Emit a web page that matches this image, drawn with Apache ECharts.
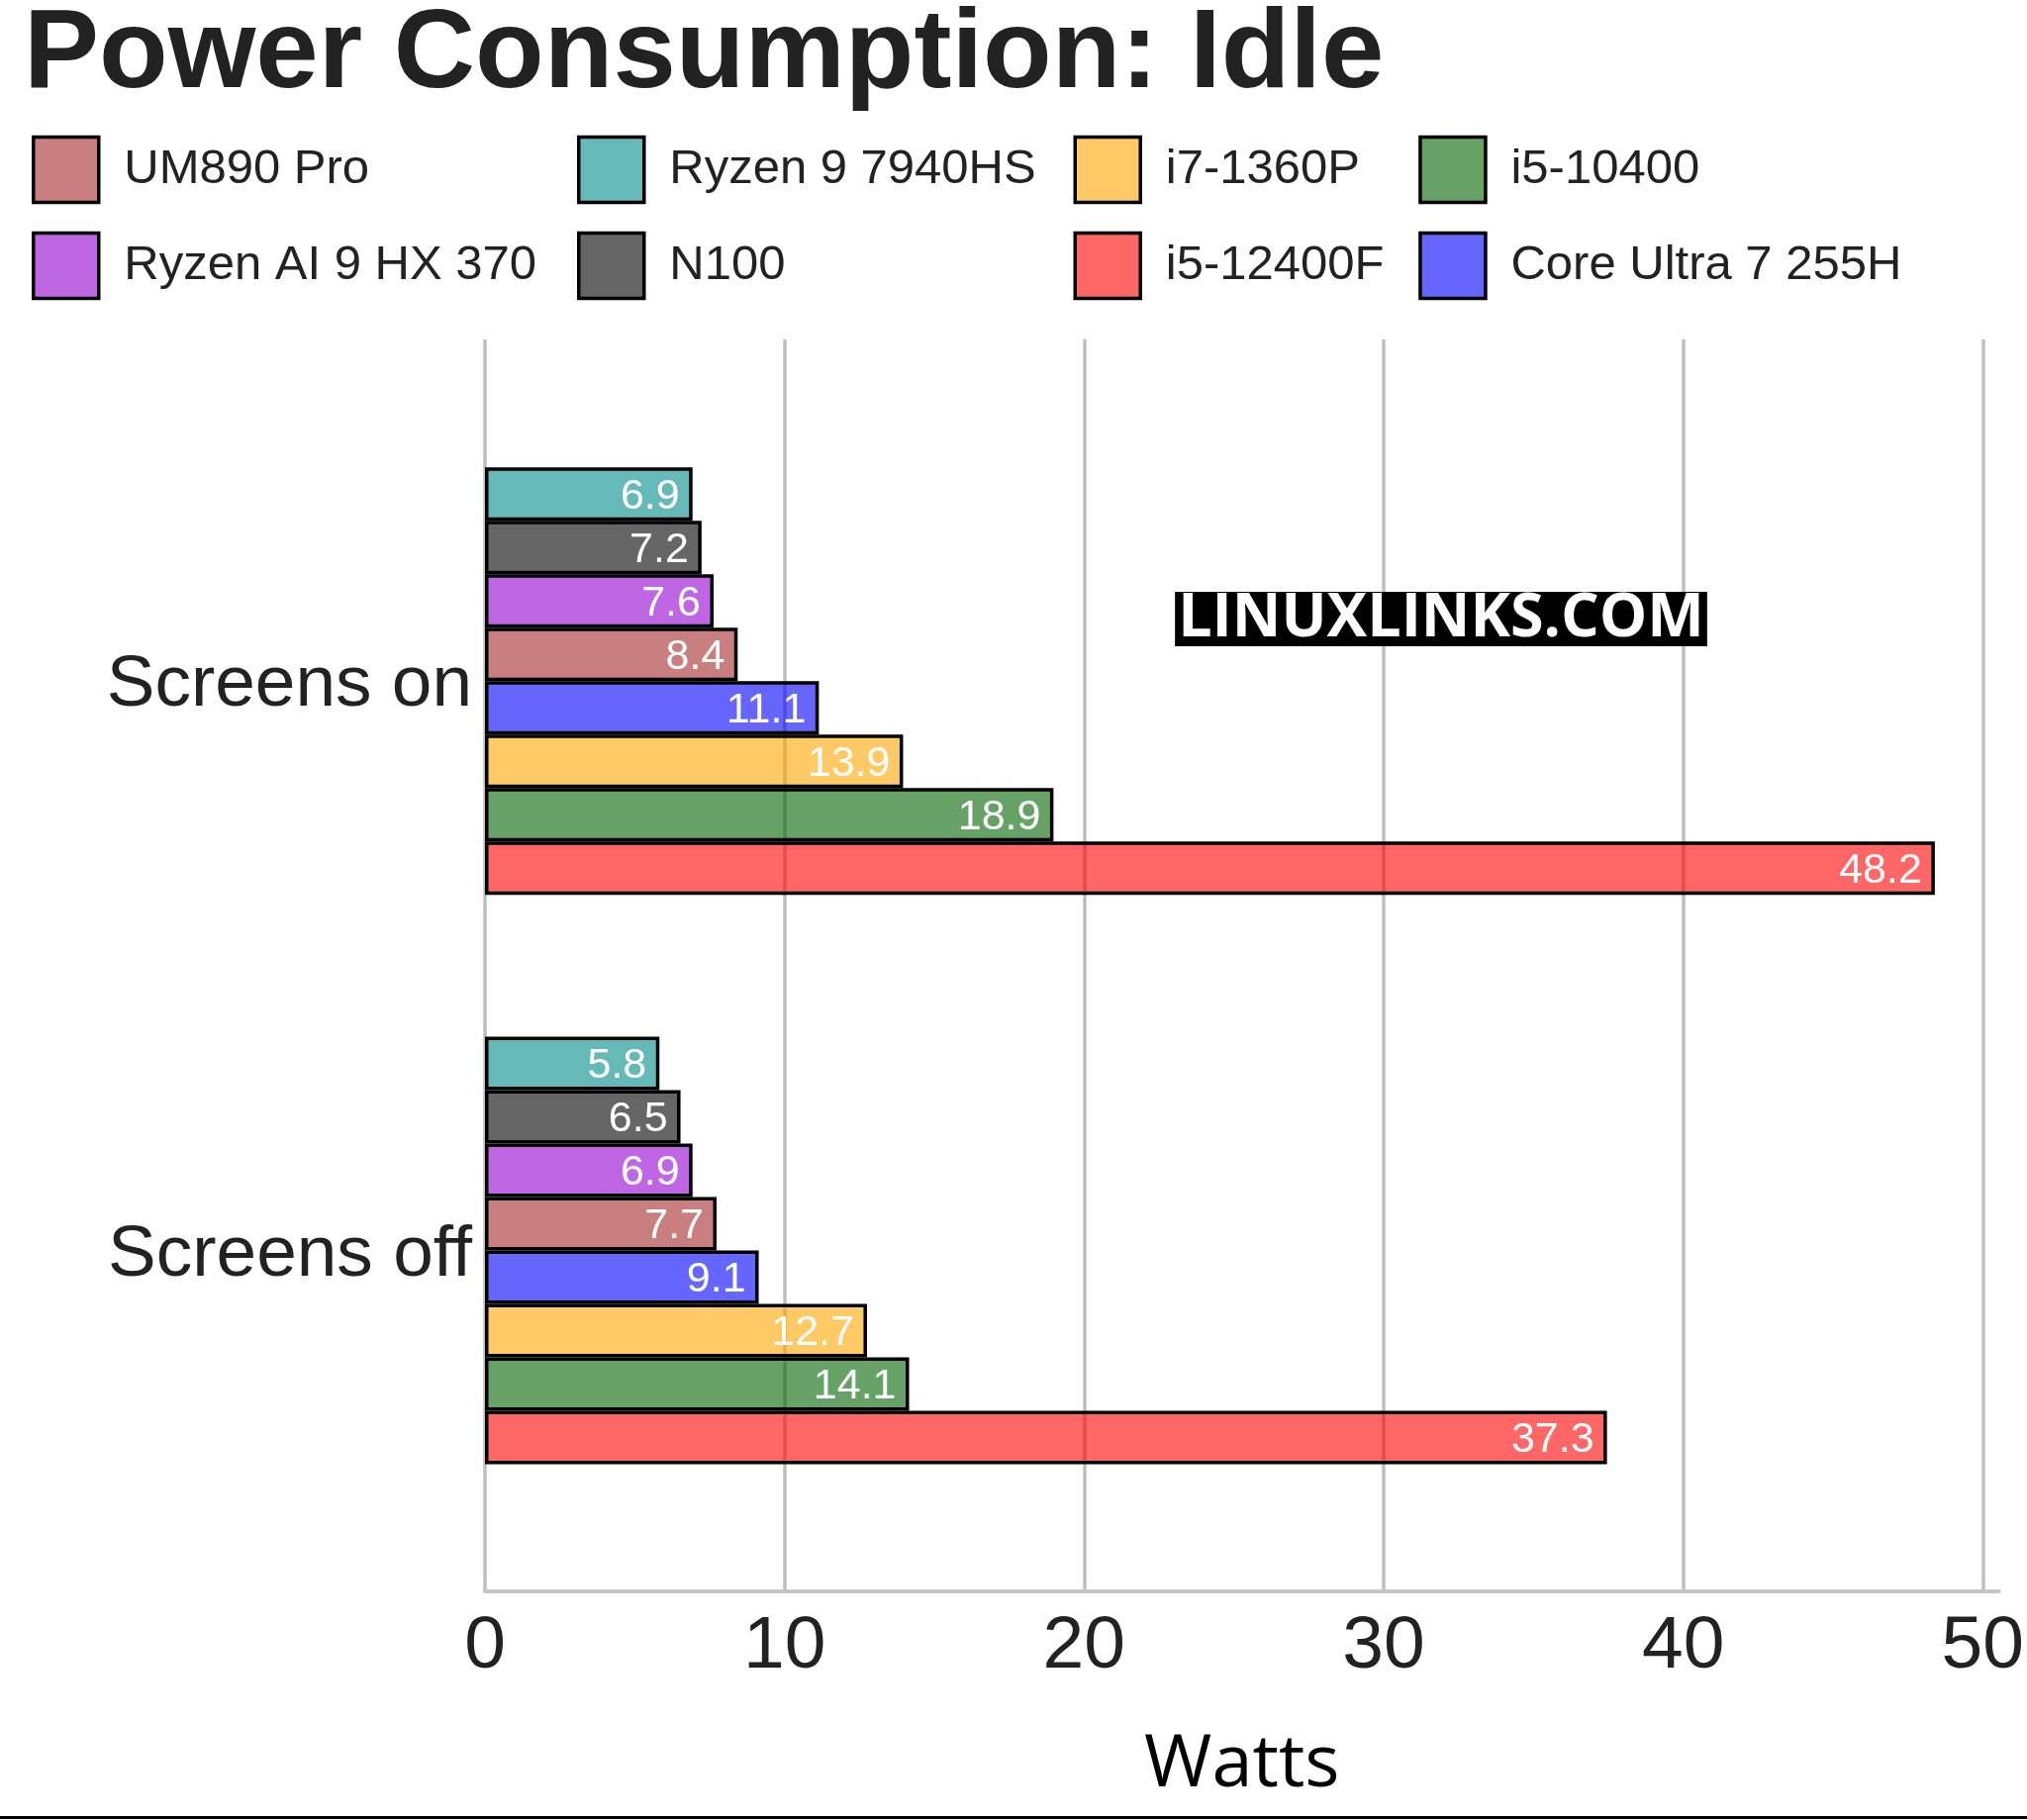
<!DOCTYPE html>
<html><head><meta charset="utf-8">
<script src="https://cdn.jsdelivr.net/npm/echarts@6/dist/echarts.min.js"></script>
<style>html,body{margin:0;padding:0;background:#fff}#c{width:2048px;height:1839px}</style>
</head><body><div id="c"></div><script>
// ---- data ----
const categories = ['Screens on', 'Screens off'];
const ryzen7940hs = [6.9, 5.8];
const n100 = [7.2, 6.5];
const ryzenAi370 = [7.6, 6.9];
const um890pro = [8.4, 7.7];
const coreUltra255h = [11.1, 9.1];
const i71360p = [13.9, 12.7];
const i510400 = [18.9, 14.1];
const i512400f = [48.2, 37.3];
const xTickValues = [0, 10, 20, 30, 40, 50];
const legendColumns = [
  ['UM890 Pro', 'Ryzen AI 9 HX 370'],
  ['Ryzen 9 7940HS', 'N100'],
  ['i7-1360P', 'i5-12400F'],
  ['i5-10400', 'Core Ultra 7 255H']
];

// ---- styling ----
const seriesDefs = [
  { name: 'Ryzen 9 7940HS', data: ryzen7940hs, color: 'rgba(0,139,139,0.6)' },
  { name: 'N100', data: n100, color: 'rgba(0,0,0,0.6)' },
  { name: 'Ryzen AI 9 HX 370', data: ryzenAi370, color: 'rgba(148,0,211,0.6)' },
  { name: 'UM890 Pro', data: um890pro, color: 'rgba(165,42,42,0.6)' },
  { name: 'Core Ultra 7 255H', data: coreUltra255h, color: 'rgba(0,0,255,0.6)' },
  { name: 'i7-1360P', data: i71360p, color: 'rgba(255,165,0,0.6)' },
  { name: 'i5-10400', data: i510400, color: 'rgba(0,100,0,0.6)' },
  { name: 'i5-12400F', data: i512400f, color: 'rgba(255,0,0,0.6)' }
];
const XMAX = 50.54;
const LS = 'Liberation Sans, Arial, sans-serif';
const legendLefts = [32, 583, 1084.5, 1433.2];

const chart = echarts.init(document.getElementById('c'), null, { renderer: 'canvas', width: 2048, height: 1839 });

const option = {
  animation: false,
  backgroundColor: '#ffffff',
  grid: [
    { left: 490, right: 22, top: 343, bottom: 231 },
    { left: 490, right: 22, top: 400.5, height: 1150.5 }
  ],
  legend: legendColumns.map((names, i) => ({
    data: names,
    orient: 'vertical',
    left: legendLefts[i],
    top: 136.7,
    padding: 0,
    itemGap: 27.5,
    itemWidth: 66,
    itemHeight: 66,
    icon: 'rect',
    selectedMode: false,
    itemStyle: { borderColor: '#000', borderWidth: 3.5 },
    textStyle: { fontSize: 49, color: '#222', fontFamily: LS, padding: [0, 0, 0, 20.5] }
  })),
  xAxis: [
    {
      gridIndex: 0, type: 'value', min: 0, max: XMAX, interval: 10,
      axisLine: { show: true, lineStyle: { color: '#c6c6c6', width: 4 } },
      axisTick: { show: false },
      axisLabel: {
        fontSize: 75, color: '#222', fontFamily: LS, margin: 19, showMaxLabel: false,
        formatter: v => (xTickValues.indexOf(v) >= 0 ? String(v) : '')
      },
      splitLine: { show: true, showMaxLine: false, lineStyle: { color: '#bebebe', width: 3.5 } },
      name: 'Watts', nameLocation: 'middle', nameGap: 139,
      nameTextStyle: { fontSize: 74, color: '#000', fontFamily: 'Open Sans, Noto Sans, sans-serif' }
    },
    { gridIndex: 1, type: 'value', min: 0, max: XMAX, show: false }
  ],
  yAxis: [
    { gridIndex: 0, type: 'category', data: categories, show: false },
    {
      gridIndex: 1, type: 'category', data: categories, inverse: true,
      axisLine: { show: false }, axisTick: { show: false }, splitLine: { show: false },
      axisLabel: {
        margin: 13,
        formatter: v => '{c|' + v + '}',
        rich: { c: { fontSize: 73, color: '#222', fontFamily: LS, padding: [10, 0, 0, 0] } }
      }
    }
  ],
  series: seriesDefs.map(s => ({
    type: 'bar',
    name: s.name,
    data: s.data,
    xAxisIndex: 1,
    yAxisIndex: 1,
    barWidth: 54,
    barGap: '0%',
    itemStyle: { color: s.color, borderColor: '#000', borderWidth: 3.5 },
    label: {
      show: true, position: 'insideRight', distance: 13, offset: [0, 3],
      color: '#fff', fontSize: 43, fontFamily: LS
    },
    emphasis: { disabled: true }
  })),
  graphic: [
    {
      type: 'text', left: 24, top: 0, z: 100,
      style: { text: 'Power Consumption: Idle', fill: '#222', font: 'bold 114px ' + LS }
    },
    {
      type: 'text', z: 100, x: 1456, y: 625.5,
      style: {
        text: 'LINUXLINKS.COM', fill: '#fff', font: 'bold 61px Open Sans, Noto Sans, sans-serif',
        align: 'center', verticalAlign: 'middle',
        backgroundColor: '#000', padding: [0, 3, 0, 3], lineHeight: 55
      }
    },
    {
      type: 'line', z: 100,
      shape: { x1: 0, y1: 1836.5, x2: 2048, y2: 1836.5 },
      style: { stroke: '#000', lineWidth: 3 }
    }
  ]
};
chart.setOption(option);
</script></body></html>
